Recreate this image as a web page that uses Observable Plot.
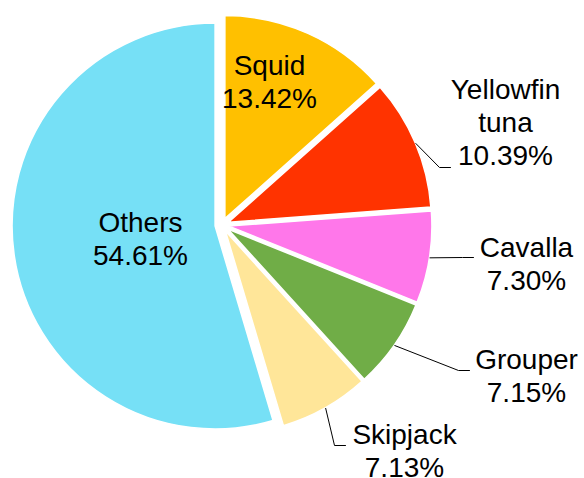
<!DOCTYPE html>
<html>
<head>
<meta charset="utf-8">
<script src="https://cdn.jsdelivr.net/npm/d3@7"></script>
<script src="https://cdn.jsdelivr.net/npm/@observablehq/plot@0.6"></script>
<style>
  html, body { margin: 0; padding: 0; background: #fff; }
  #chart svg { display: block; }
</style>
</head>
<body>
<div id="chart"></div>
<script>
// ---- data ----
const categories = ["Squid", "Yellowfin tuna", "Cavalla", "Grouper", "Skipjack", "Others"];
const shares = [13.42, 10.39, 7.30, 7.15, 7.13, 54.61];
const labelNames = ["Squid", "Yellowfin\ntuna", "Cavalla", "Grouper", "Skipjack", "Others"];

// ---- styles / layout ----
const colors = ["#FFC000", "#FF3300", "#FF77EA", "#70AD47", "#FFE699", "#76E0F6"];
const R = 203;        // pie radius (px)
const EXPLODE = 7;    // slice offset (px)
// label block centre (lx, ly) and leader end (ex, ey), relative to pie centre
const labelLayout = [
  { lx: 47,  ly: -145,  leader: false },
  { lx: 283, ly: -104,  leader: true, ex: 228, ey: -58 },
  { lx: 304, ly: 37,    leader: true, ex: 251, ey: 32 },
  { lx: 304, ly: 149.5, leader: true, ex: 247, ey: 145 },
  { lx: 182, ly: 224,   leader: true, ex: 123, ey: 220 },
  { lx: -82, ly: 12,    leader: false }
];

const data = categories.map((c, i) => ({ category: c, share: shares[i], name: labelNames[i], color: colors[i] }));
const arcs = d3.pie().sort(null).value(d => d.share).startAngle(0).endAngle(2 * Math.PI)(data);

const mid = a => (a.startAngle + a.endAngle) / 2;

// leader lines: arc edge at mid-angle -> elbow -> end
const leaderPts = [];
arcs.forEach((a, i) => {
  const L = labelLayout[i];
  if (!L.leader) return;
  const m = mid(a);
  const sx = Math.sin(m) * (R + EXPLODE), sy = -Math.cos(m) * (R + EXPLODE);
  leaderPts.push({ k: a.data.category, x: sx, y: sy });
  leaderPts.push({ k: a.data.category, x: L.ex - 11, y: L.ey });
  leaderPts.push({ k: a.data.category, x: L.ex, y: L.ey });
});

const labels = arcs.map((a, i) => ({
  x: labelLayout[i].lx,
  y: labelLayout[i].ly,
  text: a.data.name + "\n" + a.data.share.toFixed(2) + "%"
}));

function slicesMark(index, scales, values, dimensions, context) {
  const sxf = scales.x, syf = scales.y;
  const cx = sxf(0), cy = syf(0);
  const k = sxf(1) - sxf(0);
  const arcGen = d3.arc().innerRadius(0).outerRadius(R * k);
  const g = d3.create("svg:g");
  g.selectAll("path").data(arcs).join("path")
    .attr("transform", d => {
      const m = mid(d);
      return `translate(${cx + Math.sin(m) * EXPLODE * k},${cy - Math.cos(m) * EXPLODE * k})`;
    })
    .attr("d", arcGen)
    .attr("fill", d => d.data.color)
    .attr("stroke", "#fff")
    .attr("stroke-width", 1.5);
  return g.node();
}

const FONT = "'Liberation Sans', Arial, Helvetica, sans-serif";

const chart = Plot.plot({
  width: 584,
  height: 478,
  margin: 0,
  style: { background: "white", fontFamily: FONT },
  x: { domain: [-222, 362], range: [0, 584], axis: null },
  y: { domain: [-225, 253], range: [0, 478], axis: null },
  marks: [
    slicesMark,
    Plot.line(leaderPts, { x: "x", y: "y", z: "k", stroke: "#000", strokeWidth: 1 }),
    Plot.text(labels, {
      x: "x", y: "y", text: "text",
      fontSize: 28, lineHeight: 1.18, fill: "#000", fontFamily: FONT
    })
  ]
});
document.getElementById("chart").appendChild(chart);
</script>
</body>
</html>
